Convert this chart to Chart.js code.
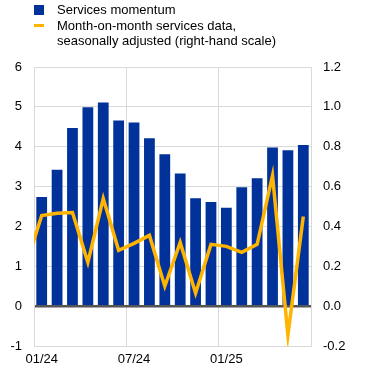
<!DOCTYPE html>
<html>
<head>
<meta charset="utf-8">
<script src="https://cdn.jsdelivr.net/npm/chart.js@4"></script>
<style>
  html, body { margin: 0; padding: 0; background: #fff; }
  #wrap { position: relative; width: 370px; height: 371px; }
  #legend { position: absolute; left: 34px; top: 2px; font-family: Arial, "Liberation Sans", sans-serif; font-size: 13px; color: #000; line-height: 15px; }
  .item { position: relative; padding-left: 23px; }
  .sw-bar { position: absolute; left: 0; top: 3px; width: 10px; height: 10px; background: #003299; }
  .sw-line { position: absolute; left: 0; top: 6px; width: 10px; height: 3px; background: #ffb400; }
</style>
</head>
<body>
<div id="wrap">
  <canvas id="servicesChart" width="370" height="371"></canvas>
  <div id="legend">
    <div class="item"><span class="sw-bar"></span>Services momentum</div>
    <div class="item" style="margin-top:1px"><span class="sw-line"></span>Month-on-month services data,<br>seasonally adjusted (right-hand scale)</div>
  </div>
</div>
<script>
// first month (12/23) sits just left of the visible range so the line runs in from the edge
const months = ['12/23', '01/24', '02/24', '03/24', '04/24', '05/24', '06/24', '07/24', '08/24', '09/24',
    '10/24', '11/24', '12/24', '01/25', '02/25', '03/25', '04/25', '05/25', '06/25'];
const momentum = [null, 2.74, 3.42, 4.47, 4.99, 5.11, 4.66, 4.61, 4.21, 3.81,
    3.33, 2.71, 2.61, 2.47, 2.98, 3.21, 3.98, 3.91, 4.04];
const monthOnMonth = [0.21, 0.455, 0.466, 0.47, 0.22, 0.54, 0.28, 0.315, 0.355, 0.1,
    0.32, 0.065, 0.31, 0.30, 0.27, 0.31, 0.655, -0.145, 0.45];
const shownLabels = ['01/24', '07/24', '01/25'];

const ctx = document.getElementById('servicesChart').getContext('2d');

const servicesChart = new Chart(ctx, {
    type: 'bar',
    data: {
        labels: months,
        datasets: [{
            type: 'line',
            label: 'Month-on-month services data, seasonally adjusted (right-hand scale)',
            data: monthOnMonth,
            yAxisID: 'y2',
            borderColor: '#ffb400',
            borderWidth: 3.5,
            pointRadius: 0,
            tension: 0,
            order: 0
        }, {
            label: 'Services momentum',
            data: momentum,
            yAxisID: 'y',
            backgroundColor: '#003299',
            barPercentage: 0.7,
            categoryPercentage: 1.0,
            order: 1
        }]
    },
    options: {
        responsive: false,
        animation: false,
        layout: {
            padding: { top: 67, left: 0, right: 0, bottom: 0 }
        },
        plugins: {
            legend: { display: false },
            tooltip: { enabled: false }
        },
        scales: {
            x: {
                min: '01/24',
                max: '06/25',
                border: { display: false },
                grid: {
                    drawTicks: false,
                    color: function(c) {
                        if (!c.tick) return 'rgba(0,0,0,0)';
                        return shownLabels.includes(months[c.tick.value]) ? '#d9d9d9' : 'rgba(0,0,0,0)';
                    }
                },
                ticks: {
                    autoSkip: false,
                    maxRotation: 0,
                    padding: 6,
                    color: '#000',
                    font: { family: 'Arial, "Liberation Sans", sans-serif', size: 13 },
                    callback: function(value) {
                        const l = months[value];
                        return shownLabels.includes(l) ? l : '';
                    }
                },
                afterFit: function(scale) { scale.height = 25; }
            },
            y: {
                position: 'left',
                min: -1,
                max: 6,
                border: { display: true, color: '#d9d9d9' },
                grid: {
                    drawTicks: false,
                    color: function(c) { return c.tick && c.tick.value === 0 ? '#555555' : '#d9d9d9'; },
                    lineWidth: function(c) { return c.tick && c.tick.value === 0 ? 2.5 : 1; }
                },
                ticks: {
                    stepSize: 1,
                    padding: 12,
                    color: '#000',
                    font: { family: 'Arial, "Liberation Sans", sans-serif', size: 13 }
                },
                afterFit: function(scale) { scale.width = 34; }
            },
            y2: {
                position: 'right',
                min: -0.2,
                max: 1.2,
                border: { display: true, color: '#d9d9d9' },
                grid: { display: false, drawTicks: false },
                ticks: {
                    stepSize: 0.2,
                    padding: 12,
                    color: '#000',
                    font: { family: 'Arial, "Liberation Sans", sans-serif', size: 13 },
                    callback: function(value) { return (Math.round(value * 10) / 10 + 0).toFixed(1); }
                },
                afterFit: function(scale) { scale.width = 59; }
            }
        }
    }
});
</script>
</body>
</html>
